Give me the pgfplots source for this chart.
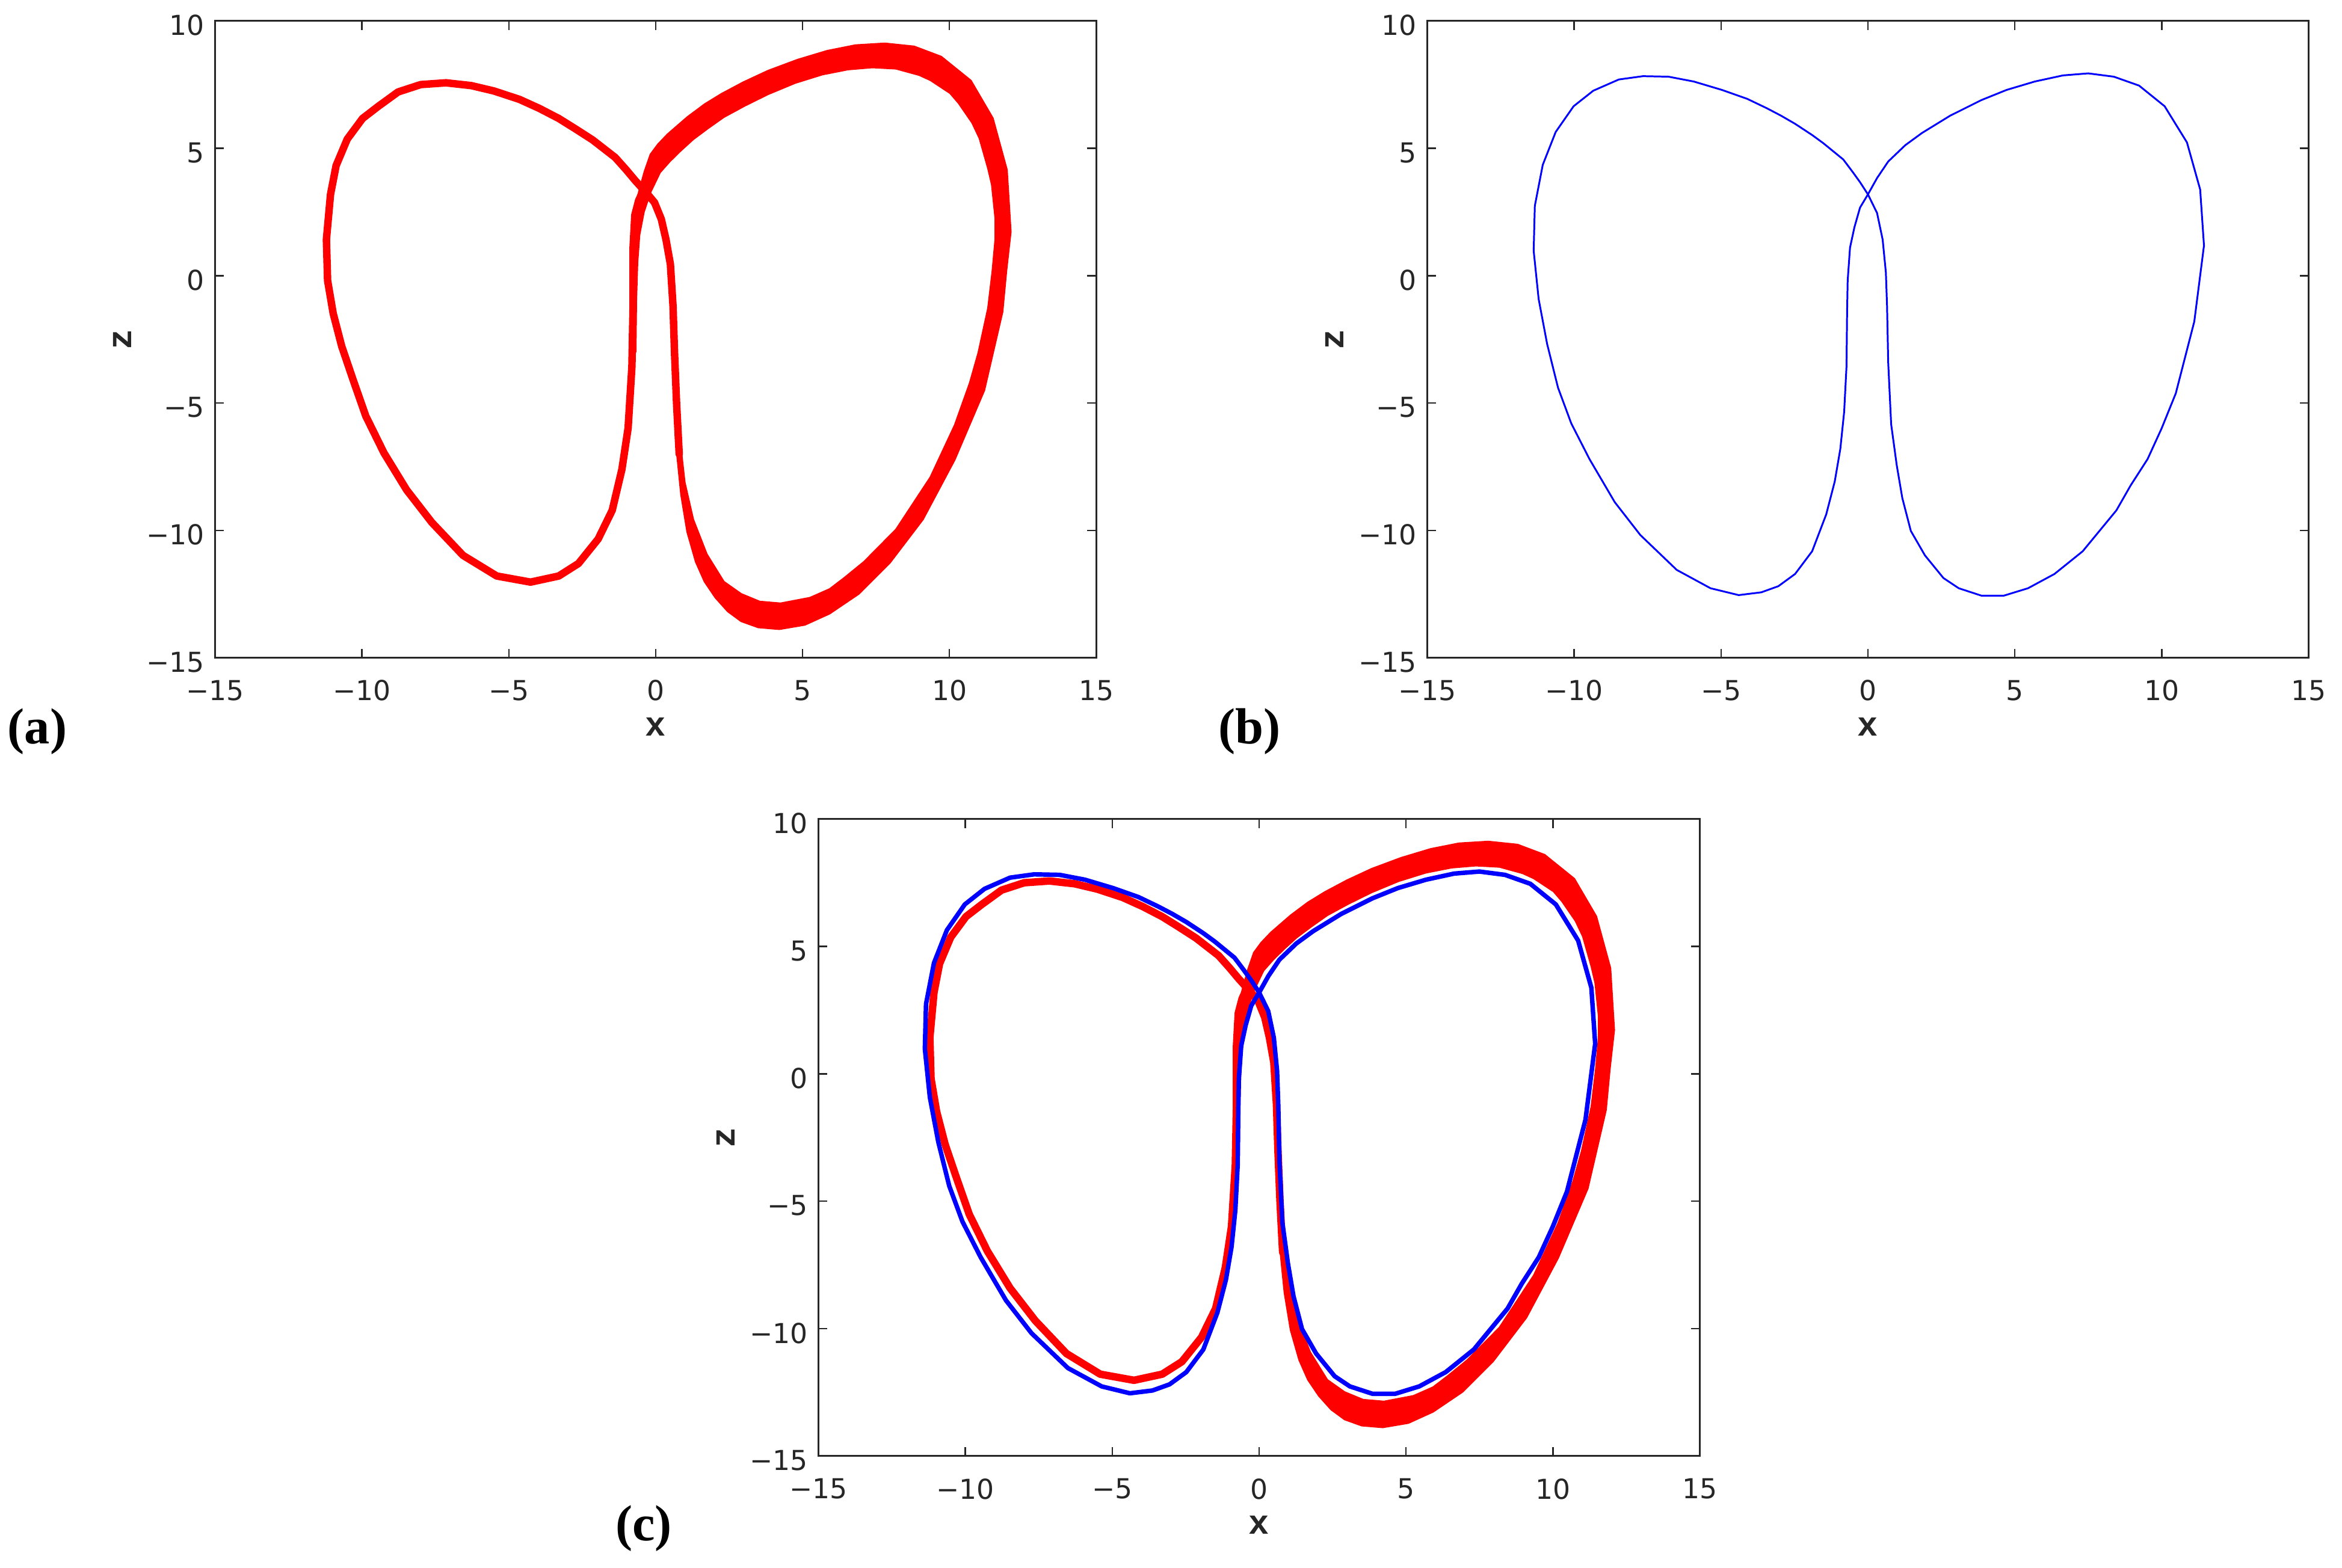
\documentclass[border=0pt]{standalone}
\usepackage{fontspec}
\usepackage{pgfplots}
\usepackage{pgfplotstable}
\pgfplotsset{compat=1.18}
\newfontfamily\ticksf{DejaVu Sans}
\newfontfamily\labmono{Liberation Mono}
\newfontfamily\panelserif{Liberation Serif}
\definecolor{axgray}{RGB}{38,38,38}

% blue orbit (panel b, repeated in c)
\pgfplotstableread{
x y
0 3.19
-0.27 3.67
-0.52 4.07
-0.84 4.56
-1.18 4.88
-1.52 5.20
-1.90 5.52
-2.48 5.96
-2.96 6.28
-3.44 6.57
-4.11 6.94
-4.97 7.29
-5.93 7.62
-6.79 7.81
-7.66 7.83
-8.48 7.70
-9.35 7.26
-10.02 6.65
-10.63 5.64
-11.07 4.35
-11.34 2.74
-11.38 0.98
-11.21 -0.92
-10.92 -2.69
-10.55 -4.40
-10.10 -5.80
-9.48 -7.20
-8.62 -8.89
-7.75 -10.18
-6.51 -11.55
-5.36 -12.27
-4.40 -12.54
-3.63 -12.43
-3.05 -12.19
-2.48 -11.71
-1.90 -10.82
-1.42 -9.37
-1.13 -8.08
-0.94 -6.80
-0.81 -5.35
-0.73 -3.57
-0.71 -1.48
-0.69 -0.19
-0.61 1.10
-0.46 1.90
-0.27 2.67
0 3.19
0.31 3.83
0.69 4.48
1.27 5.12
1.84 5.60
2.80 6.28
3.86 6.89
4.72 7.29
5.68 7.62
6.64 7.86
7.50 7.94
8.37 7.81
9.23 7.46
10.10 6.65
10.86 5.23
11.31 3.38
11.44 1.18
11.11 -1.80
10.48 -4.62
10.00 -5.99
9.52 -7.20
8.94 -8.24
8.46 -9.21
7.31 -10.82
6.35 -11.71
5.45 -12.27
4.63 -12.56
3.86 -12.56
3.09 -12.27
2.57 -11.87
1.94 -10.98
1.46 -10.02
1.17 -8.73
0.98 -7.44
0.79 -5.83
0.69 -3.41
0.65 -1.16
0.61 0.13
0.50 1.42
0.31 2.46
0 3.19
}\bluetab

% red orbit: thin part (left lobe and the two stems)
\pgfplotstableread{
x y
0.80 -7.00
0.71 -5.00
0.64 -3.00
0.59 -1.20
0.50 0.45
0.35 1.42
0.19 2.22
-0.04 2.87
-0.27 3.19
-0.46 3.43
-0.71 3.75
-1.00 4.15
-1.38 4.64
-1.77 4.99
-2.15 5.33
-2.73 5.76
-3.30 6.17
-3.97 6.57
-4.64 6.92
-5.51 7.25
-6.28 7.46
-7.14 7.57
-8.00 7.50
-8.77 7.21
-9.44 6.65
-9.98 6.17
-10.50 5.36
-10.88 4.32
-11.07 3.19
-11.21 1.42
-11.17 -0.19
-10.98 -1.48
-10.69 -2.77
-10.31 -4.06
-9.87 -5.51
-9.25 -6.96
-8.48 -8.41
-7.62 -9.69
-6.56 -10.98
-5.41 -11.79
-4.26 -12.03
-3.30 -11.79
-2.63 -11.30
-1.96 -10.34
-1.48 -9.21
-1.15 -7.60
-0.94 -5.99
-0.81 -3.57
-0.77 -1.16
-0.77 1.10
-0.71 2.38
-0.58 2.95
-0.42 3.35
-0.23 3.83
-0.04 4.24
0.25 4.72
}\redline

% red orbit: wide band of the right lobe (outer edge, then inner edge back)
\pgfplotstableread{
x y
-0.86 -3.0
-0.87 -1.0
-0.86 0.8
-0.82 1.8
-0.72 2.6
-0.55 3.4
-0.38 4.1
-0.18 4.76
0.07 5.15
0.40 5.55
1.07 6.22
1.66 6.73
2.24 7.14
2.99 7.60
3.83 8.05
4.83 8.48
5.84 8.83
6.80 9.05
7.80 9.12
8.80 9.00
9.72 8.60
10.73 7.66
11.48 6.18
11.96 4.15
12.09 1.72
11.94 0.18
11.81 -1.42
11.19 -4.50
10.18 -7.23
9.10 -9.57
7.97 -11.28
6.92 -12.49
5.92 -13.27
5.08 -13.71
4.21 -13.88
3.49 -13.81
2.91 -13.57
2.45 -13.18
2.03 -12.64
1.66 -12.01
1.36 -11.23
1.07 -10.06
0.86 -8.59
0.69 -6.64
0.62 -4.80
0.74 -4.80
0.80 -6.15
0.99 -8.11
1.28 -9.57
1.74 -10.93
2.32 -12.01
2.91 -12.49
3.54 -12.79
4.25 -12.86
5.25 -12.64
5.92 -12.30
6.42 -11.86
7.09 -11.23
8.18 -9.96
9.35 -7.91
10.18 -5.86
10.69 -4.21
10.98 -3.03
11.31 -1.28
11.46 0.18
11.56 1.45
11.56 2.23
11.44 3.57
11.31 4.21
11.02 5.39
10.77 6.00
10.31 6.77
10.02 7.16
9.35 7.67
8.97 7.87
8.18 8.12
7.38 8.17
6.55 8.09
5.67 7.89
4.75 7.56
3.83 7.12
3.04 6.67
2.32 6.22
1.78 5.78
1.28 5.35
0.86 4.91
0.48 4.48
0.15 4.05
-0.18 3.26
-0.40 2.5
-0.55 1.6
-0.62 0.5
-0.66 -1.0
-0.68 -3.0
}\redband

\pgfplotsset{
  panel/.style={
    scale only axis, width=295pt, height=213.25pt, anchor=south west,
    xmin=-15, xmax=15, ymin=-15, ymax=10,
    xtick={-15,-10,...,15}, ytick={-15,-10,...,10},
    xticklabels={−15,−10,−5,0,5,10,15},
    yticklabels={−15,−10,−5,0,5,10},
    tick align=inside, major tick length=3pt,
    axis line style={axgray, line width=0.6pt},
    tick style={axgray, line width=0.5pt},
    ticklabel style={font=\ticksf\fontsize{9.2}{11}\selectfont, text=axgray},
    xticklabel style={yshift=-4pt},
    yticklabel style={yshift=-1.5pt},
    xlabel={x}, ylabel={z},
    label style={font=\labmono\bfseries\fontsize{11.5}{13}\selectfont, text=axgray},
    xlabel style={at={(axis description cs:0.5,-0.108)}, anchor=center},
    ylabel style={at={(axis description cs:-0.105,0.5)}, anchor=center},
  },
  redband/.style={red, fill=red, line width=0.5pt, line join=round},
  redthin/.style={red, line width=2.5pt, line join=round, line cap=round},
}

\begin{document}
\begin{tikzpicture}
\useasboundingbox (0,0) rectangle (784pt,525pt);

\begin{axis}[panel, at={(72pt,304.75pt)}]
\addplot[redband] table {\redband} -- cycle;
\addplot[redthin] table {\redline};
\end{axis}

\begin{axis}[panel, at={(477.8pt,304.75pt)}]
\addplot[blue, line width=0.6pt] table {\bluetab};
\end{axis}

\begin{axis}[panel, at={(274pt,37.5pt)}]
\addplot[redband] table {\redband} -- cycle;
\addplot[redthin] table {\redline};
\addplot[blue, line width=1.5pt, line join=round] table {\bluetab};
\end{axis}

\node[font=\panelserif\bfseries\fontsize{17}{20}\selectfont] at (12.5pt,280pt) {(a)};
\node[font=\panelserif\bfseries\fontsize{17}{20}\selectfont] at (418.3pt,280pt) {(b)};
\node[font=\panelserif\bfseries\fontsize{17}{20}\selectfont] at (215.5pt,13.2pt) {(c)};
\end{tikzpicture}
\end{document}
